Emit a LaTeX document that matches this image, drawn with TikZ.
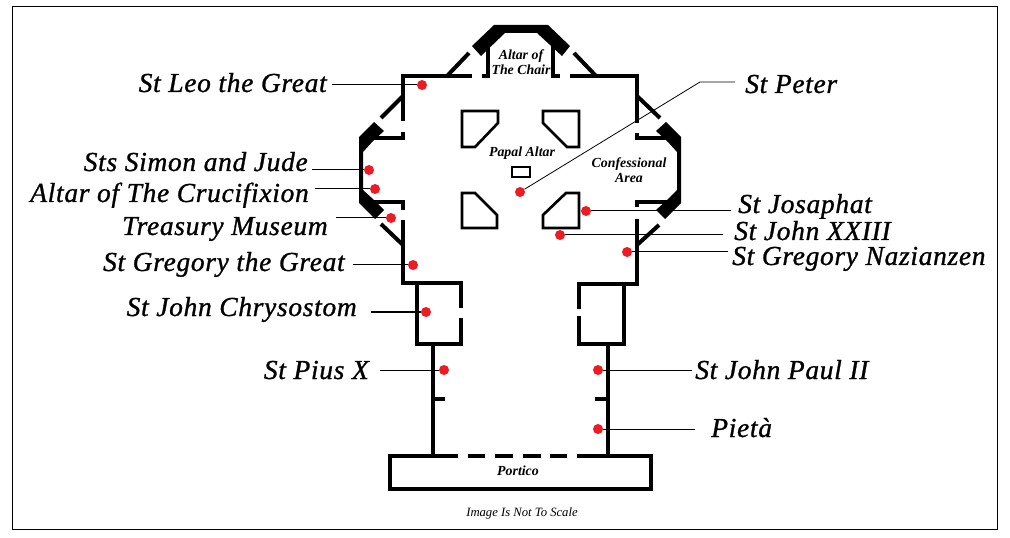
\documentclass[tikz,border=0pt]{standalone}
\usepackage{fontspec}
\setmainfont{Liberation Serif}
\newfontfamily\namefont[LetterSpace=2.5,ItalicFeatures={FakeBold=1}]{Liberation Serif}
\begin{document}
\begin{tikzpicture}[x=0.75pt,y=-0.75pt]
	
		\tikzset{
		  wall/.style={
			line width=3pt,
			draw=black,
		  },
		  thickwall/.style={
			fill=black,
			draw=none,
		  },
		  pier/.style={
			line width=2pt,
			draw=black,
		  },
		  spot/.style={
			circle,
			fill={rgb,255:red,237;green,28;blue,36},
			inner sep=0pt,
			minimum size=7.5pt,
		  },
		  leader/.style={
			line width=0.75pt,
			draw=black,
		  },
		  place/.style={
			font=\namefont\fontsize{20.6}{22}\selectfont\itshape,
			inner sep=0pt,
		  },
		  area/.style={
			font=\fontsize{10.4}{11.6}\selectfont\bfseries\itshape,
			inner sep=0pt,
			align=center,
		  },
		}
		\useasboundingbox (0,0) rectangle (1010,538);
		\draw[line width=0.75pt] (12,7) rectangle (997,529);
		% main walls, top
		\draw[wall] (472,76)--(403,76)--(403,121);
		\draw[wall] (482,76)--(490,76);
		\draw[wall] (488,78)--(488,43);
		\draw[wall] (553,78)--(553,43);
		\draw[wall] (551,76)--(560,76);
		\draw[wall] (570,76)--(637,76)--(637,123);
		\draw[wall] (447,76)--(469,53);
		\draw[wall] (596,76)--(574,53);
		\draw[thickwall] (472,46)--(494,25)--(548,25)--(570,46)--(562,56)--(537,33)--(505,33)--(481,56)--cycle;
		% left chapel
		\draw[wall] (403,96)--(381,118);
		\draw[wall] (403,132)--(403,138)--(373,138);
		\draw[thickwall] (374,122)--(384,131)--(373,141)--(363,152)--(363,190)--(374,200)--(384,210)--(375,219)--(359,203)--(359,137)--cycle;
		\draw[wall] (373,202)--(403,202)--(403,210);
		\draw[wall] (403,220)--(403,285);
		\draw[wall] (381,224)--(403,245);
		% right chapel
		\draw[wall] (637,96)--(660,118);
		\draw[wall] (637,133)--(637,138)--(667,138);
		\draw[thickwall] (666,122)--(681,137)--(681,203)--(665,219)--(656,210)--(667,200)--(677,190)--(677,152)--(667,141)--(656,131)--cycle;
		\draw[wall] (667,202)--(637,202)--(637,207);
		\draw[wall] (637,219)--(637,286);
		\draw[wall] (637,245)--(659,225);
		% side rooms
		\draw[wall] (402,283)--(461,283)--(461,308);
		\draw[wall] (461,318)--(461,344)--(417,344)--(417,283);
		\draw[wall] (639,284)--(579,284)--(579,309);
		\draw[wall] (579,316)--(579,344)--(624,344)--(624,284);
		% nave
		\draw[wall] (433,344)--(433,456);
		\draw[wall] (608,344)--(608,456);
		\draw[wall] (433,399)--(445,399);
		\draw[wall] (608,399)--(595,399);
		% portico
		\draw[wall] (458,456)--(390,456)--(390,489)--(651,489)--(651,456)--(577,456);
		\draw[wall] (468,456)--(485,456);
		\draw[wall] (495,456)--(513,456);
		\draw[wall] (523,456)--(541,456);
		\draw[wall] (550,456)--(567,456);
		% piers and altar
		\draw[pier] (462,111)--(498,111)--(498,123)--(475,147)--(462,147)--cycle;
		\draw[pier] (543,111)--(579,111)--(579,147)--(567,147)--(543,123)--cycle;
		\draw[pier] (462,193)--(475,193)--(497,215)--(497,228)--(462,228)--cycle;
		\draw[pier] (543,215)--(566,193)--(579,193)--(579,228)--(543,228)--cycle;
		\draw[pier] (512,167) rectangle (530,177);
		% areas
		\node[area] (chair) at (521,62) {Altar of\\The Chair};
		\node[area] (papal) at (522,153) {Papal Altar};
		\node[area] (confessional) at (629,170) {Confessional\\Area};
		\node[area] (portico) at (518,471) {Portico};
		\node[font=\fontsize{9.5}{11}\selectfont\itshape,inner sep=0pt] (note) at (522,513) {Image Is Not To Scale};
		% spots
		\node[spot] (leo) at (422,85) {};
		\node[spot] (peter) at (520,192) {};
		\node[spot] (simon) at (369,170) {};
		\node[spot] (crucifixion) at (375,189) {};
		\node[spot] (treasury) at (391,218) {};
		\node[spot] (gregory) at (413,265) {};
		\node[spot] (chrysostom) at (426,312) {};
		\node[spot] (pius) at (444,370) {};
		\node[spot] (josaphat) at (586,211) {};
		\node[spot] (xxiii) at (560,235) {};
		\node[spot] (nazianzen) at (627,252) {};
		\node[spot] (johnpaul) at (598,370) {};
		\node[spot] (pieta) at (598,429) {};
		% names
		\node[place,anchor=base east] (leotext) at (327,92) {St Leo the Great};
		\node[place,anchor=base west] (petertext) at (745,93) {St Peter};
		\node[place,anchor=base east] (simontext) at (308,171) {Sts Simon and Jude};
		\node[place,anchor=base east] (crucifixiontext) at (309,202) {Altar of The Crucifixion};
		\node[place,anchor=base east] (treasurytext) at (328,235) {Treasury Museum};
		\node[place,anchor=base east] (gregorytext) at (345,271) {St Gregory the Great};
		\node[place,anchor=base east] (chrysostomtext) at (357,316) {St John Chrysostom};
		\node[place,anchor=base east] (piustext) at (369,379) {St Pius X};
		\node[place,anchor=base west] (josaphattext) at (738,213) {St Josaphat};
		\node[place,anchor=base west] (xxiiitext) at (734,240) {St John XXIII};
		\node[place,anchor=base west] (nazianzentext) at (732,265) {St Gregory Nazianzen};
		\node[place,anchor=base west] (johnpaultext) at (695,379) {St John Paul II};
		\node[place,anchor=base west] (pietatext) at (711,437) {Pietà};
		% leaders
		\coordinate (leoend) at (332,85);
		\coordinate (peterend) at (735,82);
		\coordinate (peterbend) at (700,82);
		\coordinate (simonend) at (312,170);
		\coordinate (crucifixionend) at (315,189);
		\coordinate (treasuryend) at (336,218);
		\coordinate (gregoryend) at (353,265);
		\coordinate (chrysostomend) at (371,312);
		\coordinate (piusend) at (380,370);
		\coordinate (josaphatend) at (731,211);
		\coordinate (xxiiiend) at (723,235);
		\coordinate (nazianzenend) at (728,252);
		\coordinate (johnpaulend) at (692,370);
		\coordinate (pietaend) at (695,429);
		\draw[leader] (leoend)--(leo);
		\draw[leader,line width=0.6pt] (peterend)--(peterbend)--(peter);
		\draw[leader] (simonend)--(simon);
		\draw[leader] (crucifixionend)--(crucifixion);
		\draw[leader] (treasuryend)--(treasury);
		\draw[leader] (gregoryend)--(gregory);
		\draw[leader] (chrysostomend)--(chrysostom);
		\draw[leader] (piusend)--(pius);
		\draw[leader] (josaphatend)--(josaphat);
		\draw[leader] (xxiiiend)--(xxiii);
		\draw[leader] (nazianzenend)--(nazianzen);
		\draw[leader] (johnpaulend)--(johnpaul);
		\draw[leader] (pietaend)--(pieta);
	
	\end{tikzpicture}
\end{document}
